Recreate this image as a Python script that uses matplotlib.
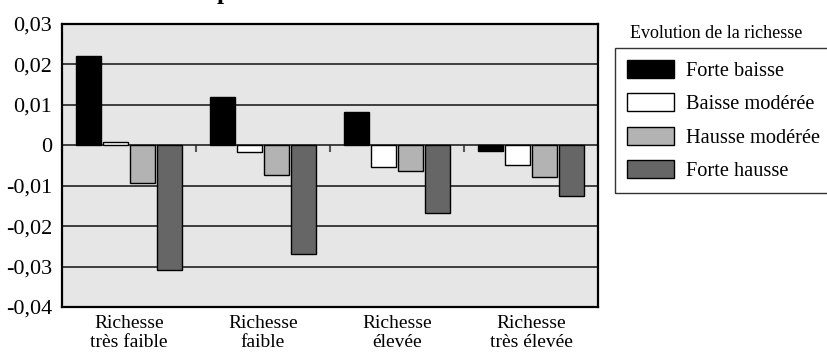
import numpy as np
import matplotlib
matplotlib.use("Agg")
import matplotlib.pyplot as plt
from matplotlib.patches import Patch
from matplotlib.ticker import FuncFormatter

plt.rcParams['font.family'] = ['Liberation Serif', 'DejaVu Serif']

categories = ["Richesse\ntrès faible", "Richesse\nfaible", "Richesse\nélevée", "Richesse\ntrès élevée"]
series_names = ["Forte baisse", "Baisse modérée", "Hausse modérée", "Forte hausse"]
forte_baisse = [0.022, 0.012, 0.0082, -0.0013]
baisse_moderee = [0.0008, -0.0017, -0.0053, -0.0049]
hausse_moderee = [-0.0093, -0.0073, -0.0063, -0.0078]
forte_hausse = [-0.0308, -0.027, -0.0167, -0.0125]
series = [forte_baisse, baisse_moderee, hausse_moderee, forte_hausse]
colors = ["#000000", "#ffffff", "#b3b3b3", "#666666"]
yticks = [0.03, 0.02, 0.01, 0.0, -0.01, -0.02, -0.03, -0.04]
legend_title = "Evolution de la richesse"

W, H = 827, 353
fig = plt.figure(figsize=(W / 100, H / 100), dpi=100)
ax = fig.add_axes([62 / W, 1 - 307 / H, (598 - 62) / W, (307 - 24) / H])
ax.set_facecolor("#e6e6e6")

x = np.arange(len(categories))
pitch = 0.2
bw = 0.185
for i, (vals, col) in enumerate(zip(series, colors)):
    ax.bar(x + (i - 1.5) * pitch, vals, width=bw, color=col, edgecolor="black",
           linewidth=1.0, zorder=3)

ymin, ymax = min(yticks), max(yticks)
ax.set_ylim(ymin, ymax)
ax.set_xlim(-0.5, len(categories) - 0.5)
ax.set_yticks(yticks)
ax.yaxis.set_major_formatter(FuncFormatter(
    lambda v, p: "0" if abs(v) < 1e-12 else ("%.2f" % v).replace(".", ",")))
ax.tick_params(axis="y", length=0, pad=7, labelsize=16)
ax.set_xticks(x)
ax.set_xticklabels(categories, fontsize=14, linespacing=1.1)
ax.tick_params(axis="x", length=0, pad=6)
ax.grid(axis="y", color="#222222", linewidth=1.2, zorder=1)
ax.set_axisbelow(True)
for s in ax.spines.values():
    s.set_linewidth(1.6)
    s.set_color("black")

# boundary ticks on the zero line
zero_frac = (0 - ymin) / (ymax - ymin)
sec = ax.secondary_xaxis(zero_frac)
sec.set_xticks(np.arange(len(categories) + 1) - 0.5)
sec.tick_params(axis="x", direction="out", length=5, width=1.5, color="#555555",
                labelbottom=False, labeltop=False, bottom=True, top=False)
sec.spines["bottom"].set_visible(False)
sec.spines["top"].set_visible(False)

handles = [Patch(facecolor=c, edgecolor="black", linewidth=1.0) for c in colors]
leg = fig.legend(handles, series_names, loc="upper left",
                 bbox_to_anchor=(615 / W, 1 - 47.7 / H), borderaxespad=0,
                 fontsize=14.7, frameon=True, fancybox=False, shadow=False,
                 handlelength=2.3, handleheight=0.95, handletextpad=0.6,
                 labelspacing=0.62, borderpad=0.6)
leg.get_frame().set_edgecolor("black")
leg.get_frame().set_linewidth(1.0)
fig.text(716 / W, 1 - 33 / H, legend_title, ha="center", va="center", fontsize=13)

# title, cut off by the top edge of the image
fig.text(224 / W, 1.0 + 1 / H, "p", ha="center", va="baseline", fontsize=18, fontweight="bold")

fig.savefig("out.png", dpi=100)
